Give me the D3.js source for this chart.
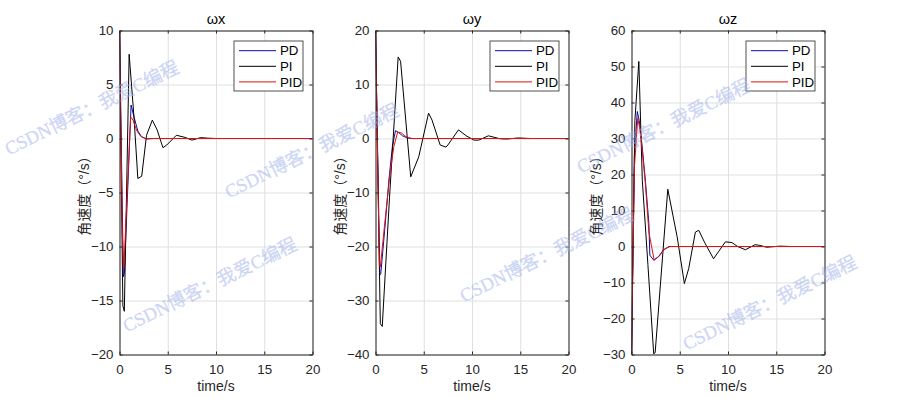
<!DOCTYPE html>
<html>
<head>
<meta charset="utf-8">
<script src="https://cdn.jsdelivr.net/npm/d3@7"></script>
<style>
  body { margin: 0; background: #fff; }
  text { font-family: "Liberation Sans", Arial, "Noto Sans CJK SC", sans-serif; }
</style>
</head>
<body>
<div id="graph"></div>
<script>
// Datos (tiempo en s, velocidad angular en °/s)
const seriesNames = ["PD", "PI", "PID"]
const seriesColors = ["#0b0ba6", "#000000", "#e01010"]
const titles = ["ωx", "ωy", "ωz"]
const xTicks = [0, 5, 10, 15, 20]
const yTicksX = [-20, -15, -10, -5, 0, 5, 10]
const yTicksY = [-40, -30, -20, -10, 0, 10, 20]
const yTicksZ = [-30, -20, -10, 0, 10, 20, 30, 40, 50, 60]

// ωx
const tPDx  = [0, 0.4, 0.5, 1.2, 1.5, 1.9, 2.3, 2.8, 3.5, 20]
const wPDx  = [10, -12.8, -12.5, 3.1, 2.0, 0.7, 0.15, -0.05, 0, 0]
const tPIx  = [0, 0.35, 0.5, 1.0, 1.5, 1.9, 2.3, 2.8, 3.4, 3.9, 4.5, 4.9, 5.9, 6.8, 7.5, 8.4, 9.2, 10, 11, 20]
const wPIx  = [10, -15.5, -16, 7.8, 2.0, -3.7, -3.5, 0.3, 1.7, 0.8, -0.85, -0.6, 0.3, 0.1, -0.15, 0.08, 0.03, 0, 0, 0]
const tPIDx = [0, 0.3, 0.45, 0.8, 1.15, 1.4, 1.8, 2.2, 2.7, 3.2, 20]
const wPIDx = [10, -9, -12, -5, 2.0, 1.7, 0.7, 0.2, 0, 0, 0]

// ωy
const tPDy  = [0, 0.45, 0.55, 1.0, 1.4, 1.75, 2.07, 2.4, 2.8, 3.3, 3.8, 20]
const wPDy  = [20, -25.3, -25, -16, -7.5, -1.5, 1.45, 1.1, 0.5, 0.1, 0, 0]
const tPIy  = [0, 0.5, 0.7, 1.45, 2.35, 2.6, 3.65, 4.48, 5.5, 5.86, 6.7, 7.3, 7.5, 8.6, 9.4, 10.2, 10.7, 11.7, 12.9, 13.6, 14.8, 16, 20]
const wPIy  = [20, -34.3, -34.8, -11, 15.1, 14.3, -7.1, -3.4, 4.7, 3.4, -1.2, -1.6, -1.2, 1.6, 0.5, -0.3, -0.3, 0.5, -0.05, -0.1, 0.1, 0, 0]
const tPIDy = [0, 0.4, 0.5, 1.0, 1.5, 1.9, 2.3, 2.7, 3.1, 3.7, 20]
const wPIDy = [20, -23.5, -23.8, -15, -6.5, -1.5, 1.2, 1.0, 0.4, 0, 0]

// ωz
const tPDz  = [0, 0.3, 0.6, 0.8, 1.1, 1.45, 1.8, 1.9, 2.3, 2.8, 3.3, 3.9, 20]
const wPDz  = [-30, 25, 37.5, 35, 28, 18, 6.4, -2.4, -3.8, -2.8, -1, 0, 0]
const tPIz  = [0, 0.35, 0.76, 1.12, 1.7, 2.3, 2.45, 3.76, 4.73, 5.48, 5.93, 6.62, 6.97, 7.6, 8.5, 9.0, 9.73, 10.4, 11.0, 11.8, 12.8, 13.3, 14.0, 15.4, 16.5, 20]
const wPIz  = [-30, 35, 51.4, 18.4, -5, -29.8, -29.5, 15.9, 2.7, -10.3, -6.1, 4.0, 4.5, 1, -3.4, -1.5, 1.3, 1.1, 0, -0.9, 0.5, 0.3, -0.2, 0.1, 0, 0]
const tPIDz = [0, 0.3, 0.65, 0.85, 1.1, 1.45, 1.8, 2.35, 2.9, 3.4, 4.0, 20]
const wPIDz = [-30, 22, 35.6, 33, 27, 17, 4, -3.8, -2.6, -0.7, 0, 0]

const watermark = "CSDN博客：我爱C编程"
const wmX = [6, 124, 226, 578, 461, 684]
const wmY = [150, 327, 193, 168, 297, 345]

const zip = (t, w) => t.map((d, i) => ({ t: d, w: w[i] }))

const panels = [
  { title: titles[0], yTicks: yTicksX, series: [zip(tPDx, wPDx), zip(tPIx, wPIx), zip(tPIDx, wPIDx)] },
  { title: titles[1], yTicks: yTicksY, series: [zip(tPDy, wPDy), zip(tPIy, wPIy), zip(tPIDy, wPIDy)] },
  { title: titles[2], yTicks: yTicksZ, series: [zip(tPDz, wPDz), zip(tPIz, wPIz), zip(tPIDz, wPIDz)] }
]

const dimensions = { width: 912, height: 399 }
const axLefts = [119.5, 375.5, 631.5]
const axW = 193
const axTop = 30.5
const axBottom = 354.5
const ink = "#262626"

const svg = d3.select("#graph")
  .append("svg")
    .attr("width", dimensions.width)
    .attr("height", dimensions.height)

svg.append("rect")
  .attr("width", dimensions.width)
  .attr("height", dimensions.height)
  .attr("fill", "#fff")

panels.forEach((p, i) => {
  const left = axLefts[i]
  const xScale = d3.scaleLinear().domain([0, 20]).range([left, left + axW])
  const yScale = d3.scaleLinear().domain(d3.extent(p.yTicks)).range([axBottom, axTop])
  const g = svg.append("g")

  // Rejilla
  g.append("g")
      .attr("transform", `translate(0,${axBottom})`)
      .call(d3.axisBottom(xScale).tickValues(xTicks).tickSize(-(axBottom - axTop)).tickFormat(""))
      .call(s => s.select(".domain").remove())
      .call(s => s.selectAll("line").attr("stroke", "#dfdfdf"))
  g.append("g")
      .attr("transform", `translate(${left},0)`)
      .call(d3.axisLeft(yScale).tickValues(p.yTicks).tickSize(-axW).tickFormat(""))
      .call(s => s.select(".domain").remove())
      .call(s => s.selectAll("line").attr("stroke", "#dfdfdf"))

  // Lineas
  const clipId = `clip${i}`
  g.append("clipPath").attr("id", clipId)
    .append("rect")
      .attr("x", left).attr("y", axTop)
      .attr("width", axW).attr("height", axBottom - axTop)

  const line = d3.line().x(d => xScale(d.t)).y(d => yScale(d.w))
  g.append("g").attr("clip-path", `url(#${clipId})`)
    .selectAll("path")
    .data(p.series)
    .join("path")
      .attr("d", line)
      .attr("fill", "none")
      .attr("stroke", (_, k) => seriesColors[k])
      .attr("stroke-width", 1)

  // Ejes (marcas hacia adentro, caja cerrada)
  const styleAxis = s => {
    s.select(".domain").attr("stroke", ink)
    s.selectAll("line").attr("stroke", ink)
    s.selectAll("text").attr("fill", ink).attr("font-size", 13.3)
  }
  g.append("g")
      .attr("transform", `translate(0,${axBottom})`)
      .call(d3.axisBottom(xScale).tickValues(xTicks).tickSizeInner(-3).tickSizeOuter(0).tickPadding(10))
      .call(styleAxis)
  g.append("g")
      .attr("transform", `translate(0,${axTop})`)
      .call(d3.axisTop(xScale).tickValues(xTicks).tickSizeInner(-3).tickSizeOuter(0).tickFormat(""))
      .call(styleAxis)
  g.append("g")
      .attr("transform", `translate(${left},0)`)
      .call(d3.axisLeft(yScale).tickValues(p.yTicks).tickSizeInner(-3).tickSizeOuter(0).tickPadding(6))
      .call(styleAxis)
  g.append("g")
      .attr("transform", `translate(${left + axW},0)`)
      .call(d3.axisRight(yScale).tickValues(p.yTicks).tickSizeInner(-3).tickSizeOuter(0).tickFormat(""))
      .call(styleAxis)

  // Titulo y etiquetas
  g.append("text")
      .attr("x", left + axW / 2).attr("y", 23.5)
      .attr("text-anchor", "middle").attr("font-size", 14.5).attr("fill", "#000")
      .text(p.title)
  g.append("text")
      .attr("x", left + axW / 2).attr("y", 391)
      .attr("text-anchor", "middle").attr("font-size", 14).attr("fill", ink)
      .text("time/s")
  g.append("text")
      .attr("transform", `translate(${left - 31},${(axTop + axBottom) / 2}) rotate(-90)`)
      .attr("text-anchor", "middle").attr("font-size", 14).attr("fill", ink)
      .text("角速度（°/s）")

  // Leyenda
  const lx = left + axW - 78.5
  const ly = 41
  const legend = g.append("g").attr("transform", `translate(${lx},${ly})`)
  legend.append("rect")
      .attr("width", 69).attr("height", 50)
      .attr("fill", "#fff").attr("stroke", ink).attr("stroke-width", 0.8)
  legend.selectAll("g")
    .data(seriesNames)
    .join(enter => {
      const row = enter.append("g")
        .attr("transform", (_, k) => `translate(0,${9.7 + k * 15.6})`)
      row.append("line")
          .attr("x1", 5).attr("x2", 42)
          .attr("stroke", (_, k) => seriesColors[k])
      row.append("text")
          .attr("x", 46).attr("dy", "0.36em")
          .attr("font-size", 13.3).attr("fill", "#000")
          .text(d => d)
      return row
    })
})

// Marcas de agua
svg.append("g")
  .selectAll("text")
  .data(wmX)
  .join("text")
    .attr("transform", (d, i) => `translate(${d},${wmY[i]}) rotate(-26)`)
    .attr("dominant-baseline", "central")
    .attr("font-size", 18.5)
    .style("font-family", "'Liberation Serif', 'DejaVu Serif', 'Noto Sans CJK SC', serif")
    .attr("fill", "#a3b3ec")
    .attr("fill-opacity", 0.5)
    .attr("stroke", "#a3b3ec")
    .attr("stroke-opacity", 0.25)
    .attr("stroke-width", 0.6)
    .text(watermark)
</script>
</body>
</html>
